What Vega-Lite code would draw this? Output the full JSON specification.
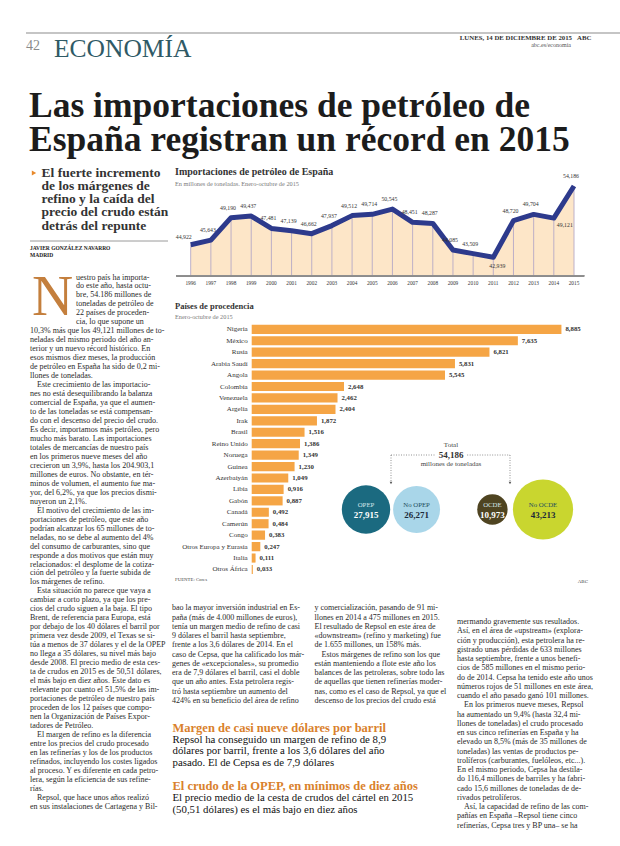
{
  "$schema": "https://vega.github.io/schema/vega-lite/v6.json",
  "width": 620,
  "height": 846,
  "autosize": {"type": "none"},
  "padding": 0,
  "background": "#ffffff",
  "config": {
    "view": {"stroke": null},
    "locale": {"number": {"decimal": ",", "thousands": ".", "grouping": [3], "currency": ["", " €"]}},
    "text": {"font": "Liberation Serif"}
  },
  "datasets": {
    "importaciones": [
      {"anio": 1996, "mt": 44.922}, {"anio": 1997, "mt": 45.643}, {"anio": 1998, "mt": 49.19}, {"anio": 1999, "mt": 49.437},
      {"anio": 2000, "mt": 47.481}, {"anio": 2001, "mt": 47.139}, {"anio": 2002, "mt": 46.662}, {"anio": 2003, "mt": 47.937},
      {"anio": 2004, "mt": 49.512}, {"anio": 2005, "mt": 49.714}, {"anio": 2006, "mt": 50.545}, {"anio": 2007, "mt": 48.451},
      {"anio": 2008, "mt": 48.287}, {"anio": 2009, "mt": 44.085}, {"anio": 2010, "mt": 43.509}, {"anio": 2011, "mt": 42.939},
      {"anio": 2012, "mt": 48.72}, {"anio": 2013, "mt": 49.704}, {"anio": 2014, "mt": 49.121}, {"anio": 2015, "mt": 54.186}
    ],
    "paises": [
      {"pais": "Nigeria", "mt": 8.885}, {"pais": "México", "mt": 7.635}, {"pais": "Rusia", "mt": 6.821},
      {"pais": "Arabia Saudí", "mt": 5.831}, {"pais": "Angola", "mt": 5.545}, {"pais": "Colombia", "mt": 2.648},
      {"pais": "Venezuela", "mt": 2.462}, {"pais": "Argelia", "mt": 2.404}, {"pais": "Irak", "mt": 1.872},
      {"pais": "Brasil", "mt": 1.516}, {"pais": "Reino Unido", "mt": 1.386}, {"pais": "Noruega", "mt": 1.349},
      {"pais": "Guinea", "mt": 1.23}, {"pais": "Azerbaiyán", "mt": 1.049}, {"pais": "Libia", "mt": 0.916},
      {"pais": "Gabón", "mt": 0.887}, {"pais": "Canadá", "mt": 0.492}, {"pais": "Camerún", "mt": 0.484},
      {"pais": "Congo", "mt": 0.383}, {"pais": "Otros Europa y Eurasia", "mt": 0.247}, {"pais": "Italia", "mt": 0.111},
      {"pais": "Otros África", "mt": 0.033}
    ],
    "grupos": [
      {"grupo": "OPEP", "mt": 27.915}, {"grupo": "No OPEP", "mt": 26.271},
      {"grupo": "OCDE", "mt": 10.973}, {"grupo": "No OCDE", "mt": 43.213}
    ],
    "cuerpo": [
      {"columna": 1, "fila": 1, "texto": "uestro país ha importa-"},
      {"columna": 1, "fila": 2, "texto": "do este año, hasta octu-"},
      {"columna": 1, "fila": 3, "texto": "bre, 54.186 millones de"},
      {"columna": 1, "fila": 4, "texto": "toneladas de petróleo de"},
      {"columna": 1, "fila": 5, "texto": "22 países de proceden-"},
      {"columna": 1, "fila": 6, "texto": "cia, lo que supone un"},
      {"columna": 1, "fila": 7, "texto": "10,3% más que los 49,121 millones de to-"},
      {"columna": 1, "fila": 8, "texto": "neladas del mismo periodo del año an-"},
      {"columna": 1, "fila": 9, "texto": "terior y un nuevo récord histórico. En"},
      {"columna": 1, "fila": 10, "texto": "esos mismos diez meses, la producción"},
      {"columna": 1, "fila": 11, "texto": "de petróleo en España ha sido de 0,2 mi-"},
      {"columna": 1, "fila": 12, "texto": "llones de toneladas."},
      {"columna": 1, "fila": 13, "texto": "Este crecimiento de las importacio-"},
      {"columna": 1, "fila": 14, "texto": "nes no está desequilibrando la balanza"},
      {"columna": 1, "fila": 15, "texto": "comercial de España, ya que el aumen-"},
      {"columna": 1, "fila": 16, "texto": "to de las toneladas se está compensan-"},
      {"columna": 1, "fila": 17, "texto": "do con el descenso del precio del crudo."},
      {"columna": 1, "fila": 18, "texto": "Es decir, importamos más petróleo, pero"},
      {"columna": 1, "fila": 19, "texto": "mucho más barato. Las importaciones"},
      {"columna": 1, "fila": 20, "texto": "totales de mercancías de nuestro país"},
      {"columna": 1, "fila": 21, "texto": "en los primeros nueve meses del año"},
      {"columna": 1, "fila": 22, "texto": "crecieron un 3,9%, hasta los 204.903,1"},
      {"columna": 1, "fila": 23, "texto": "millones de euros. No obstante, en tér-"},
      {"columna": 1, "fila": 24, "texto": "minos de volumen, el aumento fue ma-"},
      {"columna": 1, "fila": 25, "texto": "yor, del 6,2%, ya que los precios dismi-"},
      {"columna": 1, "fila": 26, "texto": "nuyeron un 2,1%."},
      {"columna": 1, "fila": 27, "texto": "El motivo del crecimiento de las im-"},
      {"columna": 1, "fila": 28, "texto": "portaciones de petróleo, que este año"},
      {"columna": 1, "fila": 29, "texto": "podrían alcanzar los 65 millones de to-"},
      {"columna": 1, "fila": 30, "texto": "neladas, no se debe al aumento del 4%"},
      {"columna": 1, "fila": 31, "texto": "del consumo de carburantes, sino que"},
      {"columna": 1, "fila": 32, "texto": "responde a dos motivos que están muy"},
      {"columna": 1, "fila": 33, "texto": "relacionados: el desplome de la cotiza-"},
      {"columna": 1, "fila": 34, "texto": "ción del petróleo y la fuerte subida de"},
      {"columna": 1, "fila": 35, "texto": "los márgenes de refino."},
      {"columna": 1, "fila": 36, "texto": "Esta situación no parece que vaya a"},
      {"columna": 1, "fila": 37, "texto": "cambiar a corto plazo, ya que los pre-"},
      {"columna": 1, "fila": 38, "texto": "cios del crudo siguen a la baja. El tipo"},
      {"columna": 1, "fila": 39, "texto": "Brent, de referencia para Europa, está"},
      {"columna": 1, "fila": 40, "texto": "por debajo de los 40 dólares el barril por"},
      {"columna": 1, "fila": 41, "texto": "primera vez desde 2009, el Texas se si-"},
      {"columna": 1, "fila": 42, "texto": "túa a menos de 37 dólares y el de la OPEP"},
      {"columna": 1, "fila": 43, "texto": "no llega a 35 dólares, su nivel más bajo"},
      {"columna": 1, "fila": 44, "texto": "desde 2008. El precio medio de esta ces-"},
      {"columna": 1, "fila": 45, "texto": "ta de crudos en 2015 es de 50,51 dólares,"},
      {"columna": 1, "fila": 46, "texto": "el más bajo en diez años. Este dato es"},
      {"columna": 1, "fila": 47, "texto": "relevante por cuanto el 51,5% de las im-"},
      {"columna": 1, "fila": 48, "texto": "portaciones de petróleo de nuestro país"},
      {"columna": 1, "fila": 49, "texto": "proceden de los 12 países que compo-"},
      {"columna": 1, "fila": 50, "texto": "nen la Organización de Países Expor-"},
      {"columna": 1, "fila": 51, "texto": "tadores de Petróleo."},
      {"columna": 1, "fila": 52, "texto": "El margen de refino es la diferencia"},
      {"columna": 1, "fila": 53, "texto": "entre los precios del crudo procesado"},
      {"columna": 1, "fila": 54, "texto": "en las refinerías y los de los productos"},
      {"columna": 1, "fila": 55, "texto": "refinados, incluyendo los costes ligados"},
      {"columna": 1, "fila": 56, "texto": "al proceso. Y es diferente en cada petro-"},
      {"columna": 1, "fila": 57, "texto": "lera, según la eficiencia de sus refine-"},
      {"columna": 1, "fila": 58, "texto": "rías."},
      {"columna": 1, "fila": 59, "texto": "Repsol, que hace unos años realizó"},
      {"columna": 1, "fila": 60, "texto": "en sus instalaciones de Cartagena y Bil-"},
      {"columna": 2, "fila": 1, "texto": "bao la mayor inversión industrial en Es-"},
      {"columna": 2, "fila": 2, "texto": "paña (más de 4.000 millones de euros),"},
      {"columna": 2, "fila": 3, "texto": "tenía un margen medio de refino de casi"},
      {"columna": 2, "fila": 4, "texto": "9 dólares el barril hasta septiembre,"},
      {"columna": 2, "fila": 5, "texto": "frente a los 3,6 dólares de 2014. En el"},
      {"columna": 2, "fila": 6, "texto": "caso de Cepsa, que ha calificado los már-"},
      {"columna": 2, "fila": 7, "texto": "genes de «excepcionales», su promedio"},
      {"columna": 2, "fila": 8, "texto": "era de 7,9 dólares el barril, casi el doble"},
      {"columna": 2, "fila": 9, "texto": "que un año antes. Esta petrolera regis-"},
      {"columna": 2, "fila": 10, "texto": "tró hasta septiembre un aumento del"},
      {"columna": 2, "fila": 11, "texto": "424% en su beneficio del área de refino"},
      {"columna": 3, "fila": 1, "texto": "y comercialización, pasando de 91 mi-"},
      {"columna": 3, "fila": 2, "texto": "llones en 2014 a 475 millones en 2015."},
      {"columna": 3, "fila": 3, "texto": "El resultado de Repsol en este área de"},
      {"columna": 3, "fila": 4, "texto": "«downstream» (refino y marketing) fue"},
      {"columna": 3, "fila": 5, "texto": "de 1.655 millones, un 158% más."},
      {"columna": 3, "fila": 6, "texto": "Estos márgenes de refino son los que"},
      {"columna": 3, "fila": 7, "texto": "están manteniendo a flote este año los"},
      {"columna": 3, "fila": 8, "texto": "balances de las petroleras, sobre todo las"},
      {"columna": 3, "fila": 9, "texto": "de aquellas que tienen refinerías moder-"},
      {"columna": 3, "fila": 10, "texto": "nas, como es el caso de Repsol, ya que el"},
      {"columna": 3, "fila": 11, "texto": "descenso de los precios del crudo está"},
      {"columna": 4, "fila": 1, "texto": "mermando gravemente sus resultados."},
      {"columna": 4, "fila": 2, "texto": "Así, en el área de «upstream» (explora-"},
      {"columna": 4, "fila": 3, "texto": "ción y producción), esta petrolera ha re-"},
      {"columna": 4, "fila": 4, "texto": "gistrado unas pérdidas de 633 millones"},
      {"columna": 4, "fila": 5, "texto": "hasta septiembre, frente a unos benefi-"},
      {"columna": 4, "fila": 6, "texto": "cios de 585 millones en el mismo perio-"},
      {"columna": 4, "fila": 7, "texto": "do de 2014. Cepsa ha tenido este año unos"},
      {"columna": 4, "fila": 8, "texto": "números rojos de 51 millones en este área,"},
      {"columna": 4, "fila": 9, "texto": "cuando el año pasado ganó 101 millones."},
      {"columna": 4, "fila": 10, "texto": "En los primeros nueve meses, Repsol"},
      {"columna": 4, "fila": 11, "texto": "ha aumentado un 9,4% (hasta 32,4 mi-"},
      {"columna": 4, "fila": 12, "texto": "llones de toneladas) el crudo procesado"},
      {"columna": 4, "fila": 13, "texto": "en sus cinco refinerías en España y ha"},
      {"columna": 4, "fila": 14, "texto": "elevado un 8,5% (más de 35 millones de"},
      {"columna": 4, "fila": 15, "texto": "toneladas) las ventas de productos pe-"},
      {"columna": 4, "fila": 16, "texto": "trolíferos (carburantes, fuelóleos, etc...)."},
      {"columna": 4, "fila": 17, "texto": "En el mismo periodo, Cepsa ha destila-"},
      {"columna": 4, "fila": 18, "texto": "do 116,4 millones de barriles y ha fabri-"},
      {"columna": 4, "fila": 19, "texto": "cado 15,6 millones de toneladas de de-"},
      {"columna": 4, "fila": 20, "texto": "rivados petrolíferos."},
      {"columna": 4, "fila": 21, "texto": "Así, la capacidad de refino de las com-"},
      {"columna": 4, "fila": 22, "texto": "pañías en España –Repsol tiene cinco"},
      {"columna": 4, "fila": 23, "texto": "refinerías, Cepsa tres y BP una– se ha"}
    ],
    "destacados": [
      {"fila": 1, "tipo": "titulo", "texto": "Margen de casi nueve dólares por barril"},
      {"fila": 2, "tipo": "texto", "texto": "Repsol ha conseguido un margen de refino de 8,9"},
      {"fila": 3, "tipo": "texto", "texto": "dólares por barril, frente a los 3,6 dólares del año"},
      {"fila": 4, "tipo": "texto", "texto": "pasado. El de Cepsa es de 7,9 dólares"},
      {"fila": 6, "tipo": "titulo", "texto": "El crudo de la OPEP, en mínimos de diez años"},
      {"fila": 7, "tipo": "texto", "texto": "El precio medio de la cesta de crudos del cártel en 2015"},
      {"fila": 8, "tipo": "texto", "texto": "(50,51 dólares) es el más bajo en diez años"}
    ]
  },
  "layer": [
    {
      "data": {"values": [{}]},
      "mark": {"type": "rule", "color": "#8c8c8c", "strokeWidth": 1.2},
      "encoding": {
        "x": {"datum": 0, "type": "quantitative", "scale": {"domain": [0, 1], "range": [26, 620]}, "axis": null},
        "x2": {"datum": 1},
        "y": {"datum": 0, "type": "quantitative", "scale": {"domain": [0, 1], "range": [33, 34]}, "axis": null}
      }
    },
    {
      "data": {"values": [{"texto": "42"}]},
      "mark": {"type": "text", "align": "left", "baseline": "middle", "fontSize": 14, "color": "#8a8a8a"},
      "encoding": {
        "x": {"datum": 0, "type": "quantitative", "scale": {"domain": [0, 1], "range": [26, 27]}, "axis": null},
        "y": {"datum": 0, "type": "quantitative", "scale": {"domain": [0, 1], "range": [46, 47]}, "axis": null},
        "text": {"field": "texto"}
      }
    },
    {
      "data": {"values": [{"texto": "ECONOMÍA"}]},
      "mark": {"type": "text", "align": "left", "baseline": "alphabetic", "fontSize": 25.5, "color": "#2f5a66"},
      "encoding": {
        "x": {"datum": 0, "type": "quantitative", "scale": {"domain": [0, 1], "range": [54, 55]}, "axis": null},
        "y": {"datum": 0, "type": "quantitative", "scale": {"domain": [0, 1], "range": [57, 58]}, "axis": null},
        "text": {"field": "texto"}
      }
    },
    {
      "data": {"values": [{"texto": "LUNES, 14 DE DICIEMBRE DE 2015"}]},
      "mark": {"type": "text", "align": "right", "baseline": "middle", "fontSize": 6.8, "fontWeight": "bold", "color": "#333333"},
      "encoding": {
        "x": {"datum": 0, "type": "quantitative", "scale": {"domain": [0, 1], "range": [572, 573]}, "axis": null},
        "y": {"datum": 0, "type": "quantitative", "scale": {"domain": [0, 1], "range": [38, 39]}, "axis": null},
        "text": {"field": "texto"}
      }
    },
    {
      "data": {"values": [{"texto": "ABC"}]},
      "mark": {"type": "text", "align": "left", "baseline": "middle", "fontSize": 6.8, "fontWeight": "bold", "color": "#333333"},
      "encoding": {
        "x": {"datum": 0, "type": "quantitative", "scale": {"domain": [0, 1], "range": [577, 578]}, "axis": null},
        "y": {"datum": 0, "type": "quantitative", "scale": {"domain": [0, 1], "range": [38, 39]}, "axis": null},
        "text": {"field": "texto"}
      }
    },
    {
      "data": {"values": [{"texto": "abc.es/economia"}]},
      "mark": {"type": "text", "align": "right", "baseline": "middle", "fontSize": 6, "color": "#555555"},
      "encoding": {
        "x": {"datum": 0, "type": "quantitative", "scale": {"domain": [0, 1], "range": [571, 572]}, "axis": null},
        "y": {"datum": 0, "type": "quantitative", "scale": {"domain": [0, 1], "range": [44.5, 45.5]}, "axis": null},
        "text": {"field": "texto"}
      }
    },
    {
      "data": {"values": [{"linea": 1, "texto": "Las importaciones de petróleo de"}, {"linea": 2, "texto": "España registran un récord en 2015"}]},
      "mark": {"type": "text", "align": "left", "baseline": "alphabetic", "fontSize": 35.5, "fontWeight": "bold", "color": "#1c1c1c"},
      "encoding": {
        "x": {"datum": 0, "type": "quantitative", "scale": {"domain": [0, 1], "range": [29, 30]}, "axis": null},
        "y": {"field": "linea", "type": "quantitative", "scale": {"domain": [1, 2], "range": [116.5, 150.5]}, "axis": null},
        "text": {"field": "texto"}
      }
    },
    {
      "data": {"values": [{}]},
      "mark": {"type": "point", "shape": "triangle-right", "filled": true, "size": 26, "color": "#e8892b", "opacity": 1},
      "encoding": {
        "x": {"datum": 0, "type": "quantitative", "scale": {"domain": [0, 1], "range": [34, 35]}, "axis": null},
        "y": {"datum": 0, "type": "quantitative", "scale": {"domain": [0, 1], "range": [173, 174]}, "axis": null}
      }
    },
    {
      "data": {"values": [
        {"fila": 1, "texto": "El fuerte incremento"},
        {"fila": 2, "texto": "de los márgenes de"},
        {"fila": 3, "texto": "refino y la caída del"},
        {"fila": 4, "texto": "precio del crudo están"},
        {"fila": 5, "texto": "detrás del repunte"}
      ]},
      "mark": {"type": "text", "align": "left", "baseline": "middle", "fontSize": 13.5, "fontWeight": "bold", "color": "#333333"},
      "encoding": {
        "x": {"datum": 0, "type": "quantitative", "scale": {"domain": [0, 1], "range": [41.5, 42.5]}, "axis": null},
        "y": {"field": "fila", "type": "quantitative", "scale": {"domain": [1, 5], "range": [172.5, 225.5]}, "axis": null},
        "text": {"field": "texto"}
      }
    },
    {
      "data": {"values": [{}]},
      "mark": {"type": "rule", "color": "#9a9a9a", "strokeWidth": 1},
      "encoding": {
        "x": {"datum": 0, "type": "quantitative", "scale": {"domain": [0, 1], "range": [30, 168]}, "axis": null},
        "x2": {"datum": 1},
        "y": {"datum": 0, "type": "quantitative", "scale": {"domain": [0, 1], "range": [241, 242]}, "axis": null}
      }
    },
    {
      "data": {"values": [{"fila": 1, "texto": "JAVIER GONZÁLEZ NAVARRO"}, {"fila": 2, "texto": "MADRID"}]},
      "mark": {"type": "text", "align": "left", "baseline": "middle", "fontSize": 5.5, "fontWeight": "bold", "color": "#222222"},
      "encoding": {
        "x": {"datum": 0, "type": "quantitative", "scale": {"domain": [0, 1], "range": [30, 31]}, "axis": null},
        "y": {"field": "fila", "type": "quantitative", "scale": {"domain": [1, 2], "range": [248.3, 254.5]}, "axis": null},
        "text": {"field": "texto"}
      }
    },
    {
      "data": {"values": [{"texto": "N"}]},
      "mark": {"type": "text", "align": "left", "baseline": "alphabetic", "fontSize": 57, "color": "#c47f3d"},
      "encoding": {
        "x": {"datum": 0, "type": "quantitative", "scale": {"domain": [0, 1], "range": [32, 33]}, "axis": null},
        "y": {"datum": 0, "type": "quantitative", "scale": {"domain": [0, 1], "range": [315, 316]}, "axis": null},
        "text": {"field": "texto"}
      }
    },
    {
      "data": {"name": "cuerpo"},
      "transform": [{"filter": "datum.columna == 1 && datum.fila <= 6"}],
      "mark": {"type": "text", "align": "left", "baseline": "middle", "fontSize": 8, "color": "#2a2a2a"},
      "encoding": {
        "x": {"datum": 0, "type": "quantitative", "scale": {"domain": [0, 1], "range": [76, 77]}, "axis": null},
        "y": {"field": "fila", "type": "quantitative", "scale": {"domain": [1, 60], "range": [277.5, 806.7]}, "axis": null},
        "text": {"field": "texto"}
      }
    },
    {
      "data": {"name": "cuerpo"},
      "transform": [{"filter": "datum.columna == 1 && datum.fila > 6 && indexof([13, 27, 36, 52, 59], datum.fila) < 0"}],
      "mark": {"type": "text", "align": "left", "baseline": "middle", "fontSize": 8, "color": "#2a2a2a"},
      "encoding": {
        "x": {"datum": 0, "type": "quantitative", "scale": {"domain": [0, 1], "range": [30, 31]}, "axis": null},
        "y": {"field": "fila", "type": "quantitative", "scale": {"domain": [1, 60], "range": [277.5, 806.7]}, "axis": null},
        "text": {"field": "texto"}
      }
    },
    {
      "data": {"name": "cuerpo"},
      "transform": [{"filter": "datum.columna == 1 && indexof([13, 27, 36, 52, 59], datum.fila) >= 0"}],
      "mark": {"type": "text", "align": "left", "baseline": "middle", "fontSize": 8, "color": "#2a2a2a"},
      "encoding": {
        "x": {"datum": 0, "type": "quantitative", "scale": {"domain": [0, 1], "range": [37, 38]}, "axis": null},
        "y": {"field": "fila", "type": "quantitative", "scale": {"domain": [1, 60], "range": [277.5, 806.7]}, "axis": null},
        "text": {"field": "texto"}
      }
    },
    {
      "data": {"name": "cuerpo"},
      "transform": [{"filter": "(datum.columna == 2 || datum.columna == 3) && !(datum.columna == 3 && datum.fila == 6)"}],
      "mark": {"type": "text", "align": "left", "baseline": "middle", "fontSize": 8, "color": "#2a2a2a"},
      "encoding": {
        "x": {"field": "columna", "type": "quantitative", "scale": {"domain": [2, 4], "range": [172, 457]}, "axis": null},
        "y": {"field": "fila", "type": "quantitative", "scale": {"domain": [1, 23], "range": [608.3, 811.8]}, "axis": null},
        "text": {"field": "texto"}
      }
    },
    {
      "data": {"name": "cuerpo"},
      "transform": [{"filter": "datum.columna == 3 && datum.fila == 6"}],
      "mark": {"type": "text", "align": "left", "baseline": "middle", "fontSize": 8, "color": "#2a2a2a"},
      "encoding": {
        "x": {"field": "columna", "type": "quantitative", "scale": {"domain": [2, 4], "range": [179, 464]}, "axis": null},
        "y": {"field": "fila", "type": "quantitative", "scale": {"domain": [1, 23], "range": [608.3, 811.8]}, "axis": null},
        "text": {"field": "texto"}
      }
    },
    {
      "data": {"name": "cuerpo"},
      "transform": [{"filter": "datum.columna == 4 && datum.fila != 10 && datum.fila != 21"}],
      "mark": {"type": "text", "align": "left", "baseline": "middle", "fontSize": 8, "color": "#2a2a2a"},
      "encoding": {
        "x": {"field": "columna", "type": "quantitative", "scale": {"domain": [2, 4], "range": [172, 457]}, "axis": null},
        "y": {"field": "fila", "type": "quantitative", "scale": {"domain": [1, 23], "range": [622, 825.5]}, "axis": null},
        "text": {"field": "texto"}
      }
    },
    {
      "data": {"name": "cuerpo"},
      "transform": [{"filter": "datum.columna == 4 && (datum.fila == 10 || datum.fila == 21)"}],
      "mark": {"type": "text", "align": "left", "baseline": "middle", "fontSize": 8, "color": "#2a2a2a"},
      "encoding": {
        "x": {"field": "columna", "type": "quantitative", "scale": {"domain": [2, 4], "range": [179, 464]}, "axis": null},
        "y": {"field": "fila", "type": "quantitative", "scale": {"domain": [1, 23], "range": [622, 825.5]}, "axis": null},
        "text": {"field": "texto"}
      }
    },
    {
      "data": {"name": "destacados"},
      "encoding": {
        "x": {"datum": 0, "type": "quantitative", "scale": {"domain": [0, 1], "range": [172.5, 173.5]}, "axis": null},
        "y": {"field": "fila", "type": "quantitative", "scale": {"domain": [1, 8], "range": [728, 809.5]}, "axis": null},
        "text": {"field": "texto"}
      },
      "layer": [
        {
          "transform": [{"filter": "datum.tipo == 'titulo'"}],
          "mark": {"type": "text", "align": "left", "baseline": "middle", "fontSize": 12.5, "fontWeight": "bold", "color": "#d9812c"}
        },
        {
          "transform": [{"filter": "datum.tipo == 'texto'"}],
          "mark": {"type": "text", "align": "left", "baseline": "middle", "fontSize": 10.8, "color": "#111111"}
        }
      ]
    },
    {
      "data": {"values": [{"fila": 1, "texto": "Importaciones de petróleo de España"}, {"fila": 2, "texto": "En millones de toneladas. Enero-octubre de 2015"}]},
      "encoding": {
        "x": {"datum": 0, "type": "quantitative", "scale": {"domain": [0, 1], "range": [175, 176]}, "axis": null},
        "y": {"field": "fila", "type": "quantitative", "scale": {"domain": [1, 2], "range": [171.5, 183.5]}, "axis": null},
        "text": {"field": "texto"}
      },
      "layer": [
        {"transform": [{"filter": "datum.fila == 1"}], "mark": {"type": "text", "align": "left", "baseline": "middle", "fontSize": 10, "fontWeight": "bold", "color": "#333333"}},
        {"transform": [{"filter": "datum.fila == 2"}], "mark": {"type": "text", "align": "left", "baseline": "middle", "fontSize": 6.3, "color": "#7a7a7a"}}
      ]
    },
    {
      "data": {"name": "importaciones"},
      "encoding": {
        "x": {"field": "anio", "type": "quantitative", "scale": {"domain": [1996, 2015], "range": [190.7, 574]}, "axis": null}
      },
      "layer": [
        {
          "mark": {"type": "area", "color": "#fde6c8", "opacity": 1},
          "encoding": {
            "y": {"field": "mt", "type": "quantitative", "scale": {"domain": [40, 56], "range": [275.9, 174.5]}, "axis": null},
            "y2": {"datum": 40}
          }
        },
        {
          "mark": {"type": "rule", "color": "#b5a9c6", "strokeWidth": 0.9},
          "encoding": {"y": {"field": "mt", "type": "quantitative"}, "y2": {"datum": 40}}
        },
        {
          "mark": {"type": "rule", "color": "#8f8f8f", "strokeWidth": 0.8},
          "encoding": {"x": {"datum": 1995.3}, "x2": {"datum": 2015.5}, "y": {"datum": 40}}
        },
        {
          "mark": {"type": "line", "color": "#2d3a8c", "strokeWidth": 5, "strokeJoin": "round"},
          "encoding": {"y": {"field": "mt", "type": "quantitative"}}
        },
        {
          "transform": [{"filter": "datum.anio != 1996 && datum.anio != 2011 && datum.anio != 2014"}],
          "mark": {"type": "text", "fontSize": 5.8, "color": "#333333", "dy": -10, "dx": -3},
          "encoding": {"y": {"field": "mt", "type": "quantitative"}, "text": {"field": "mt", "format": ".3f"}}
        },
        {
          "transform": [{"filter": "datum.anio == 1996"}],
          "mark": {"type": "text", "fontSize": 5.8, "color": "#333333", "dy": -8, "dx": -7},
          "encoding": {"y": {"field": "mt", "type": "quantitative"}, "text": {"field": "mt", "format": ".3f"}}
        },
        {
          "transform": [{"filter": "datum.anio == 2011"}],
          "mark": {"type": "text", "fontSize": 5.8, "color": "#333333", "dy": 9, "dx": 4},
          "encoding": {"y": {"field": "mt", "type": "quantitative"}, "text": {"field": "mt", "format": ".3f"}}
        },
        {
          "transform": [{"filter": "datum.anio == 2014"}],
          "mark": {"type": "text", "fontSize": 5.8, "color": "#333333", "dy": 7, "dx": 11},
          "encoding": {"y": {"field": "mt", "type": "quantitative"}, "text": {"field": "mt", "format": ".3f"}}
        },
        {
          "mark": {"type": "text", "fontSize": 5.3, "color": "#333333", "dy": 7},
          "encoding": {"y": {"datum": 40}, "text": {"field": "anio", "format": "d"}}
        }
      ]
    },
    {
      "data": {"values": [{"fila": 1, "texto": "Países de procedencia"}, {"fila": 2, "texto": "Enero-octubre de 2015"}]},
      "encoding": {
        "x": {"datum": 0, "type": "quantitative", "scale": {"domain": [0, 1], "range": [175, 176]}, "axis": null},
        "y": {"field": "fila", "type": "quantitative", "scale": {"domain": [1, 2], "range": [305.5, 316.5]}, "axis": null},
        "text": {"field": "texto"}
      },
      "layer": [
        {"transform": [{"filter": "datum.fila == 1"}], "mark": {"type": "text", "align": "left", "baseline": "middle", "fontSize": 8.5, "fontWeight": "bold", "color": "#333333"}},
        {"transform": [{"filter": "datum.fila == 2"}], "mark": {"type": "text", "align": "left", "baseline": "middle", "fontSize": 6.3, "color": "#7a7a7a"}}
      ]
    },
    {
      "data": {"name": "paises"},
      "encoding": {
        "y": {"field": "pais", "type": "nominal", "sort": null, "scale": {"type": "band", "range": [323.6, 575.2], "paddingInner": 0.2, "paddingOuter": 0.1}, "axis": null},
        "x": {"field": "mt", "type": "quantitative", "scale": {"domain": [0, 10], "range": [251.7, 600.3]}, "axis": null}
      },
      "layer": [
        {"mark": {"type": "bar", "color": "#f5a545"}},
        {
          "mark": {"type": "text", "align": "left", "baseline": "middle", "dx": 4, "fontSize": 6.8, "fontWeight": "bold", "color": "#333333"},
          "encoding": {"text": {"field": "mt", "format": ".3f"}}
        },
        {
          "mark": {"type": "text", "align": "right", "baseline": "middle", "dx": -4, "fontSize": 7, "color": "#333333"},
          "encoding": {"x": {"datum": 0}, "text": {"field": "pais"}}
        }
      ]
    },
    {
      "data": {"values": [{"texto": "FUENTE: Cores"}]},
      "mark": {"type": "text", "align": "left", "baseline": "middle", "fontSize": 4.8, "color": "#444444"},
      "encoding": {
        "x": {"datum": 0, "type": "quantitative", "scale": {"domain": [0, 1], "range": [175, 176]}, "axis": null},
        "y": {"datum": 0, "type": "quantitative", "scale": {"domain": [0, 1], "range": [580, 581]}, "axis": null},
        "text": {"field": "texto"}
      }
    },
    {
      "data": {"values": [{"texto": "ABC"}]},
      "mark": {"type": "text", "align": "right", "baseline": "middle", "fontSize": 5, "color": "#444444"},
      "encoding": {
        "x": {"datum": 0, "type": "quantitative", "scale": {"domain": [0, 1], "range": [588, 589]}, "axis": null},
        "y": {"datum": 0, "type": "quantitative", "scale": {"domain": [0, 1], "range": [580.5, 581.5]}, "axis": null},
        "text": {"field": "texto"}
      }
    },
    {
      "data": {"name": "grupos"},
      "encoding": {
        "x": {"field": "grupo", "type": "nominal", "scale": {"type": "point", "domain": ["OPEP", "·1", "No OPEP", "·2", "·3", "OCDE", "·4", "No OCDE"], "range": [366, 543], "padding": 0}, "axis": null},
        "y": {"datum": 0, "type": "quantitative", "scale": {"domain": [0, 1], "range": [509.5, 510.5]}, "axis": null}
      },
      "layer": [
        {
          "mark": {"type": "circle", "opacity": 1},
          "encoding": {
            "size": {"field": "mt", "type": "quantitative", "scale": {"domain": [0, 50], "range": [0, 4195], "zero": true}, "legend": null},
            "color": {"field": "grupo", "type": "nominal", "scale": {"domain": ["OPEP", "No OPEP", "OCDE", "No OCDE"], "range": ["#1b6a80", "#a9d6e9", "#4f4421", "#c9d62f"]}, "legend": null}
          }
        },
        {
          "mark": {"type": "text", "baseline": "middle", "fontSize": 6.8, "dy": -5},
          "encoding": {
            "text": {"field": "grupo"},
            "color": {"condition": {"test": "datum.grupo == 'OPEP' || datum.grupo == 'OCDE'", "value": "#d5e6ea"}, "value": "#1f4f5e"}
          }
        },
        {
          "mark": {"type": "text", "baseline": "middle", "fontSize": 9, "fontWeight": "bold", "dy": 5},
          "encoding": {
            "text": {"field": "mt", "format": ".3f"},
            "color": {"condition": {"test": "datum.grupo == 'OPEP' || datum.grupo == 'OCDE'", "value": "#ffffff"}, "value": "#1c2a3a"}
          }
        }
      ]
    },
    {
      "data": {"values": [{}]},
      "encoding": {},
      "layer": [
        {
          "mark": {"type": "rule", "color": "#777777", "strokeWidth": 0.8, "strokeDash": [1, 1.5]},
          "encoding": {
            "x": {"datum": 0, "type": "quantitative", "scale": {"domain": [0, 1], "range": [391, 510]}, "axis": null},
            "x2": {"datum": 0.37},
            "y": {"datum": 0, "type": "quantitative", "scale": {"domain": [0, 1], "range": [455, 483]}, "axis": null}
          }
        },
        {
          "mark": {"type": "rule", "color": "#777777", "strokeWidth": 0.8, "strokeDash": [1, 1.5]},
          "encoding": {"x": {"datum": 0.64, "type": "quantitative"}, "x2": {"datum": 1}, "y": {"datum": 0, "type": "quantitative"}}
        },
        {
          "mark": {"type": "rule", "color": "#777777", "strokeWidth": 0.8, "strokeDash": [1, 1.5]},
          "encoding": {"x": {"datum": 0, "type": "quantitative"}, "y": {"datum": 0, "type": "quantitative"}, "y2": {"datum": 1}}
        },
        {
          "mark": {"type": "rule", "color": "#777777", "strokeWidth": 0.8, "strokeDash": [1, 1.5]},
          "encoding": {"x": {"datum": 1, "type": "quantitative"}, "y": {"datum": 0, "type": "quantitative"}, "y2": {"datum": 1}}
        },
        {
          "mark": {"type": "point", "shape": "triangle-down", "filled": true, "size": 7, "color": "#555555", "opacity": 1},
          "encoding": {"x": {"datum": 0, "type": "quantitative"}, "y": {"datum": 1, "type": "quantitative"}}
        },
        {
          "mark": {"type": "point", "shape": "triangle-down", "filled": true, "size": 7, "color": "#555555", "opacity": 1},
          "encoding": {"x": {"datum": 1, "type": "quantitative"}, "y": {"datum": 1, "type": "quantitative"}}
        }
      ]
    },
    {
      "data": {"values": [{"fila": 1, "texto": "Total"}, {"fila": 2, "texto": "54,186"}, {"fila": 3, "texto": "millones de toneladas"}]},
      "encoding": {
        "x": {"datum": 0, "type": "quantitative", "scale": {"domain": [0, 1], "range": [451, 452]}, "axis": null},
        "y": {"field": "fila", "type": "quantitative", "scale": {"domain": [1, 3], "range": [445, 464]}, "axis": null},
        "text": {"field": "texto"}
      },
      "layer": [
        {"transform": [{"filter": "datum.fila != 2"}], "mark": {"type": "text", "baseline": "middle", "fontSize": 7, "color": "#444444"}},
        {"transform": [{"filter": "datum.fila == 2"}], "mark": {"type": "text", "baseline": "middle", "fontSize": 9, "fontWeight": "bold", "color": "#333333"}}
      ]
    }
  ],
  "resolve": {"scale": {"x": "independent", "y": "independent", "size": "independent", "color": "independent"}}
}
